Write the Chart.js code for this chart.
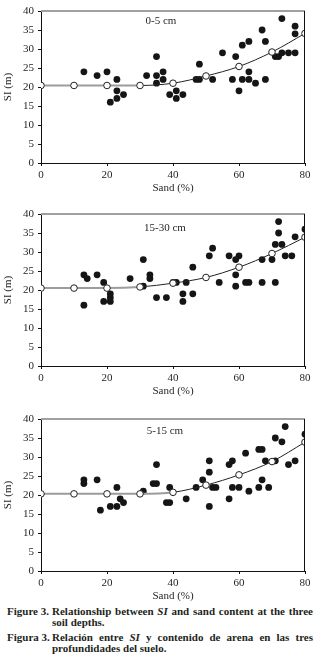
<!DOCTYPE html>
<html>
<head>
<meta charset="utf-8">
<script src="https://cdn.jsdelivr.net/npm/chart.js@4.4.0/dist/chart.umd.min.js"></script>
<style>
  body { margin: 0; background: #fff; width: 320px; height: 668px; position: relative; overflow: hidden; font-family: "Liberation Serif", "Times New Roman", serif; color: #231f20; }
  .panel { position: absolute; left: 0; width: 320px; height: 195px; }
  .depth { position: absolute; font-size: 11px; transform: translate(-50%, -50%); white-space: nowrap; }
  .cap { position: absolute; left: 7px; width: 306px; font-size: 11px; font-weight: bold; line-height: 11px; display: flex; }
  .cap .lab { width: 45px; flex: none; white-space: nowrap; }
  .cap .txt { flex: 1; text-align: justify; }
</style>
</head>
<body>
<div class="panel" style="top:0px"><canvas id="c1"></canvas></div>
<div class="panel" style="top:203px"><canvas id="c2"></canvas></div>
<div class="panel" style="top:408px"><canvas id="c3"></canvas></div>
<div class="depth" style="left:161px;top:20px">0-5 cm</div>
<div class="depth" style="left:165px;top:227px">15-30 cm</div>
<div class="depth" style="left:165px;top:430px">5-15 cm</div>
<div class="cap" style="top:606px"><div class="lab">Figure 3.</div><div class="txt">Relationship between <i>SI</i> and sand content at the three soil depths.</div></div>
<div class="cap" style="top:632px"><div class="lab">Figura 3.</div><div class="txt">Relación entre <i>SI</i> y contenido de arena en las tres profundidades del suelo.</div></div>
<script>
// x values of the fitted curve (open circles)
var fitX = [0, 10, 20, 30, 40, 50, 60, 70, 80];

// 0-5 cm
var sand05 = [13,17,20,23,23,23,21,25,32,35,35,35,37,37,39,41,41,43,47,48,48,52,55,58,59,60,61,61,63,63,63,65,67,68,68,71,72,73,73,75,77,77,77];
var si05 = [24,23,24,22,19,17,16,18,23,28,23,21,24,22,18,19,17,18,22,22,26,22,29,22,28,19,31,22,32,24,22,21,35,32,22,28,28,29,38,29,36,34,29];
var fit05 = [20.4,20.4,20.4,20.4,21,22.9,25.4,29.2,34.1];

// 15-30 cm
var sand1530 = [13,14,13,17,19,19,21,21,21,27,31,31,33,33,35,38,40,41,43,43,44,46,46,51,52,54,57,59,60,59,59,62,63,67,67,70,71,71,72,72,73,74,76,77,80];
var si1530 = [24,23,16,24,22,17,19,18,17,23,28,21,24,23,18,18,22,22,19,17,22,26,19,29,31,22,29,28,29,24,21,22,22,28,22,28,32,22,38,35,32,29,29,34,36];
var fit1530 = [20.5,20.5,20.5,20.8,21.8,23.3,26,29.6,33.9];

// 5-15 cm
var sand515 = [13,13,17,18,21,23,23,24,25,31,34,35,35,38,39,39,44,47,49,51,51,51,52,53,57,58,57,58,60,62,63,66,67,66,67,68,69,71,71,73,74,75,77,80];
var si515 = [24,23,24,16,17,22,17,19,18,21,23,23,28,18,18,22,19,22,24,29,26,17,22,22,28,29,19,22,22,31,21,32,32,22,24,29,22,35,29,34,38,28,29,36];
var fit515 = [20.3,20.3,20.3,20.3,20.7,22.6,25.3,28.8,33.9];

var xTicks = [0, 20, 40, 60, 80];

function pts(xs, ys) {
  return xs.map(function(x, i) { return { x: x, y: ys[i] }; });
}

// gray top edge + black right edge of the frame
var frame = {
  id: 'frame',
  afterDatasetsDraw: function(chart) {
    var a = chart.chartArea, ctx = chart.ctx;
    ctx.save();
    ctx.strokeStyle = '#a0a0a0';
    ctx.lineWidth = 2;
    ctx.beginPath(); ctx.moveTo(a.left, a.top); ctx.lineTo(a.right, a.top); ctx.stroke();
    ctx.strokeStyle = '#111';
    ctx.lineWidth = 1;
    ctx.beginPath(); ctx.moveTo(a.right - 0.5, a.top); ctx.lineTo(a.right - 0.5, a.bottom); ctx.stroke();
    ctx.restore();
  }
};

function makeChart(id, sand, si, fit) {
  var font = { family: "'Liberation Serif', 'Times New Roman', serif", size: 11 };
  new Chart(document.getElementById(id), {
    type: 'scatter',
    data: {
      datasets: [{
        label: 'fit',
        data: pts(fitX, fit),
        showLine: true,
        cubicInterpolationMode: 'monotone',
        borderColor: '#222',
        borderWidth: 1,
        segment: {
          borderColor: function(c) { return Math.abs(c.p1.parsed.y - c.p0.parsed.y) < 0.5 ? '#9c9c9c' : '#222'; },
          borderWidth: function(c) { return Math.abs(c.p1.parsed.y - c.p0.parsed.y) < 0.5 ? 2 : 1; }
        },
        pointRadius: 3.3,
        pointBackgroundColor: '#fff',
        pointBorderColor: '#222',
        pointBorderWidth: 1,
        order: 0
      }, {
        label: 'obs',
        data: pts(sand, si),
        pointRadius: 3.4,
        pointBackgroundColor: '#151515',
        pointBorderColor: '#151515',
        pointBorderWidth: 0,
        order: 1
      }]
    },
    options: {
      responsive: true,
      maintainAspectRatio: false,
      animation: false,
      layout: { padding: { top: 11, right: 15, left: 0, bottom: 0 } },
      plugins: { legend: { display: false }, tooltip: { enabled: false } },
      scales: {
        x: {
          type: 'linear', min: 0, max: 80,
          afterFit: function(s) { s.height = 32; },
          afterBuildTicks: function(s) { s.ticks = xTicks.map(function(v) { return { value: v }; }); },
          grid: { drawOnChartArea: false, tickLength: 3, color: '#111' },
          border: { color: '#111', width: 1 },
          ticks: { font: font, color: '#231f20', padding: 3, maxRotation: 0 },
          title: { display: true, text: 'Sand (%)', font: font, color: '#231f20', padding: { top: 0, bottom: 0 } }
        },
        y: {
          min: 0, max: 40,
          afterFit: function(s) { s.width = 41; },
          grid: { drawOnChartArea: false, tickLength: 3, color: '#111' },
          border: { color: '#111', width: 1 },
          ticks: { stepSize: 5, font: font, color: '#231f20', padding: 4 },
          title: { display: true, text: 'SI (m)', font: font, color: '#231f20', padding: { top: 2, bottom: 0 } }
        }
      }
    },
    plugins: [frame]
  });
}

makeChart('c1', sand05, si05, fit05);
makeChart('c2', sand1530, si1530, fit1530);
makeChart('c3', sand515, si515, fit515);
</script>
</body>
</html>
